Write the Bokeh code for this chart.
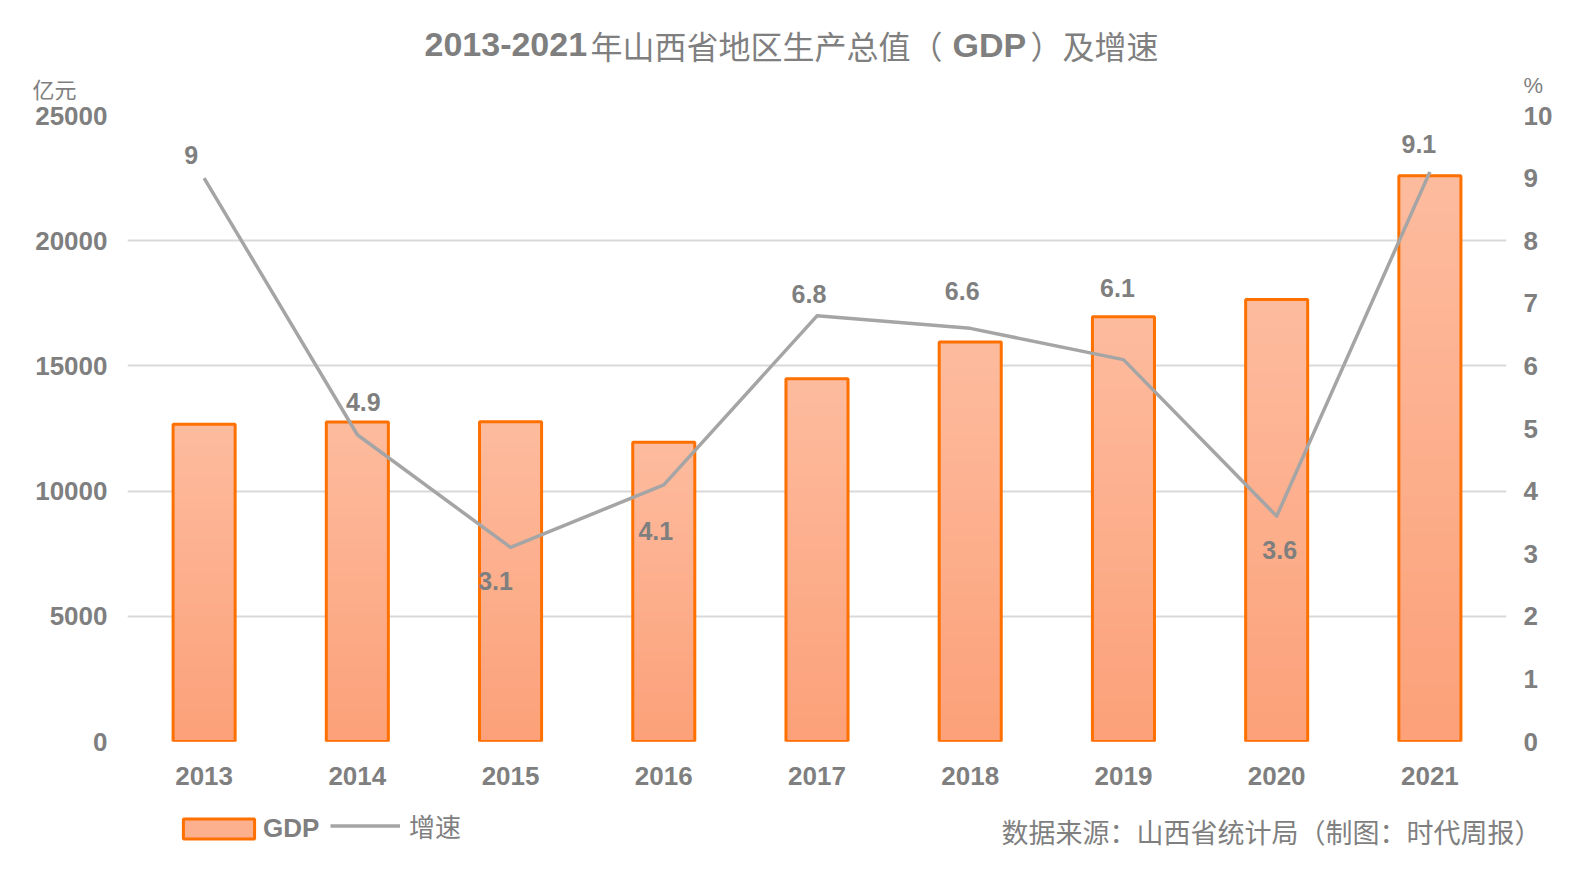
from bokeh.plotting import figure
from bokeh.layouts import column
from bokeh.models import (FactorRange, Range1d, LinearAxis, FixedTicker,
                          Legend, LegendItem)
from bokeh.core.properties import value
from bokeh.embed import file_html
from bokeh.resources import INLINE

# ---------------- data ----------------
years = ["2013", "2014", "2015", "2016", "2017", "2018", "2019", "2020", "2021"]
gdp = [12665, 12761, 12766, 11946, 14484, 15958, 16961, 17652, 22590]      # 亿元
growth = [9, 4.9, 3.1, 4.1, 6.8, 6.6, 6.1, 3.6, 9.1]                         # %
gdp_ticks = [0, 5000, 10000, 15000, 20000, 25000]
pct_ticks = [0, 1, 2, 3, 4, 5, 6, 7, 8, 9, 10]

title_parts = ["2013-2021", "年山西省地区生产总值（", "GDP", "）及增速"]
left_unit = "亿元"
right_unit = "%"
source_text = "数据来源：山西省统计局（制图：时代周报）"
legend_labels = ["GDP", "增速"]

# pixel offsets of the growth labels relative to their points (screen, y down)
label_dx = [-13, 6, -15, -8, -8, -8, -6, 3, -11]
label_dy = [-23, -33, 34, 46, -22, -37, -72, 34, -28]

GRAY = "#7f7f7f"
ORANGE = "#fe7000"
LINE_GRAY = "#a5a5a5"
W = 1576
TOP_H, MAIN_H, BOT_H = 102, 693, 79
LAT = value("Liberation Sans")
CJK = value("Noto Sans CJK SC")
NAN = float("nan")


def blank(height):
    f = figure(width=W, height=height, x_range=Range1d(0, W),
               y_range=Range1d(height, 0), x_axis_type=None, y_axis_type=None,
               min_border=0, output_backend="svg", toolbar_location=None)
    f.frame_align = False
    f.outline_line_color = None
    f.background_fill_color = "white"
    f.border_fill_color = "white"
    f.xgrid.visible = False
    f.ygrid.visible = False
    return f


# ---------------- top strip: title and units ----------------
top = blank(TOP_H)
tx = [424, 590, 952, 1030]
tfonts = [LAT, CJK, LAT, CJK]
tstyles = ["bold", "normal", "bold", "normal"]
tsizes = ["34px", "32px", "34px", "32px"]
for t, x, fnt, st, sz in zip(title_parts, tx, tfonts, tstyles, tsizes):
    top.text(x=[x], y=[44], text=[t], text_font=fnt, text_font_style=st,
             text_font_size=sz, text_color=GRAY, text_align="left",
             text_baseline="middle")
top.text(x=[32], y=[87], text=[left_unit], text_font=CJK, text_font_size="22px",
         text_color=GRAY, text_align="left", text_baseline="middle")
top.text(x=[1523], y=[85], text=[right_unit], text_font=LAT,
         text_font_size="22px", text_color=GRAY, text_align="left",
         text_baseline="middle")

# ---------------- main chart ----------------
p = figure(width=W, height=MAIN_H, x_range=FactorRange(*years, range_padding=0),
           y_range=Range1d(0, 25000), output_backend="svg", toolbar_location=None,
           min_border_left=127, min_border_right=70, min_border_top=13,
           min_border_bottom=54)
p.frame_align = False
p.extra_y_ranges = {"pct": Range1d(0, 10)}
p.background_fill_color = "white"
p.border_fill_color = "white"
p.outline_line_color = None

top_c = (253, 187, 158)
bot_c = (252, 160, 120)
N = 30
BW = 0.405
for k in range(N, 0, -1):
    f = k / N
    c = tuple(int(round(b + (t - b) * f)) for t, b in zip(top_c, bot_c))
    p.vbar(x=years, top=[v * f for v in gdp], width=BW,
           fill_color="#%02x%02x%02x" % c, line_color=None)
p.vbar(x=years, top=gdp, width=BW, fill_color=None, line_color=ORANGE,
       line_width=3)

p.line(x=years, y=growth, y_range_name="pct", line_color=LINE_GRAY,
       line_width=3.5, line_join="round")
p.text(x=years, y=growth, text=[f"{g:g}" for g in growth], y_range_name="pct",
       x_offset=label_dx, y_offset=label_dy, text_font=LAT,
       text_font_style="bold", text_font_size="25px", text_color=GRAY,
       text_align="center", text_baseline="middle")

yl = p.yaxis[0]
yl.ticker = FixedTicker(ticks=gdp_ticks)
ax_r = LinearAxis(y_range_name="pct", ticker=FixedTicker(ticks=pct_ticks))
p.add_layout(ax_r, "right")
for ax in (yl, ax_r, p.xaxis[0]):
    ax.axis_line_color = None
    ax.major_tick_line_color = None
    ax.minor_tick_line_color = None
    ax.major_tick_out = 0
    ax.major_tick_in = 0
    ax.major_label_text_font = "Liberation Sans"
    ax.major_label_text_font_style = "bold"
    ax.major_label_text_font_size = "26px"
    ax.major_label_text_color = GRAY
yl.major_label_standoff = 20
ax_r.major_label_standoff = 17
p.xaxis[0].major_label_standoff = 25

p.xgrid.visible = False
p.ygrid.ticker = FixedTicker(ticks=gdp_ticks)
p.ygrid.grid_line_color = "#d9d9d9"
p.ygrid.grid_line_width = 2

# ---------------- bottom strip: legend and source ----------------
bot = blank(BOT_H)
# key renderers with NaN data: nothing is drawn, only their legend swatches
gdp_key = bot.vbar(x=[100], top=[NAN], bottom=[NAN], width=10,
                   fill_color="#fdb08d", line_color=ORANGE, line_width=3)
line_key = bot.line(x=[100, 110], y=[NAN, NAN], line_color=LINE_GRAY,
                    line_width=3.5)
common = dict(orientation="horizontal", glyph_height=25, label_height=25,
              padding=0, margin=0, spacing=0, border_line_color=None,
              background_fill_alpha=0, label_text_font_size="26px",
              label_text_color=GRAY)
leg1 = Legend(items=[LegendItem(label=legend_labels[0], renderers=[gdp_key])],
              location=(174, 30), glyph_width=89, label_standoff=0,
              label_text_font="Liberation Sans", label_text_font_style="bold",
              **common)
leg2 = Legend(items=[LegendItem(label=legend_labels[1], renderers=[line_key])],
              location=(330, 30), glyph_width=70, label_standoff=9,
              label_text_font="Noto Sans CJK SC", label_text_font_style="normal",
              **common)
bot.add_layout(leg1)
bot.add_layout(leg2)
bot.text(x=[1541], y=[36], text=[source_text], text_font=CJK,
         text_font_size="27px", text_color=GRAY, text_align="right",
         text_baseline="middle")

layout = column(top, p, bot, spacing=0)
open("out.html", "w").write(file_html(layout, INLINE))
